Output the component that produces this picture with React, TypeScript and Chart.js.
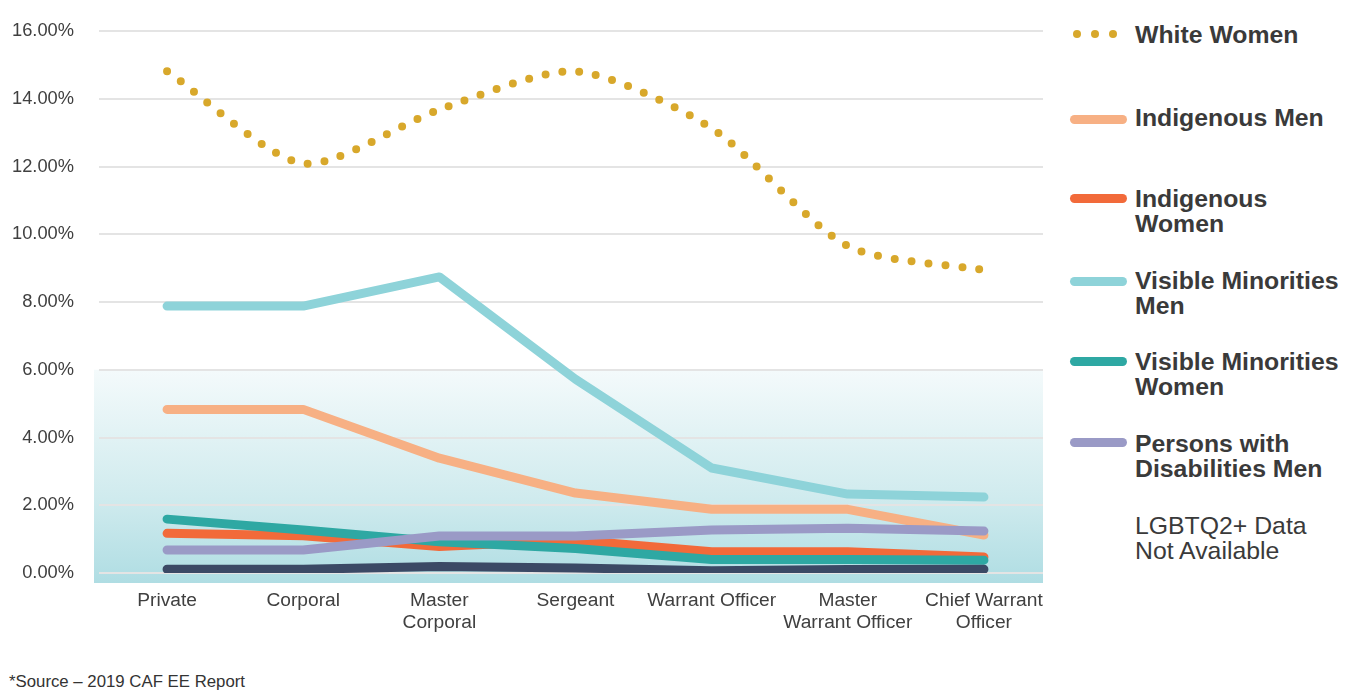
import React, { useEffect, useRef } from "react";
import { Chart, registerables } from "chart.js";

Chart.register(...registerables);

const categories: string[][] = [
  ["Private"],
  ["Corporal"],
  ["Master", "Corporal"],
  ["Sergeant"],
  ["Warrant Officer"],
  ["Master", "Warrant Officer"],
  ["Chief Warrant", "Officer"],
];

const whiteWomen = [14.81, 12.09, 13.68, 14.81, 13.13, 9.65, 8.94];
const indigenousMen = [4.83, 4.83, 3.39, 2.36, 1.88, 1.88, 1.12];
const indigenousWomen = [1.17, 1.1, 0.78, 0.97, 0.63, 0.63, 0.47];
const visibleMinoritiesMen = [7.88, 7.88, 8.74, 5.72, 3.1, 2.33, 2.24];
const visibleMinoritiesWomen = [1.59, 1.27, 0.92, 0.72, 0.4, 0.4, 0.38];
const disabilitiesMen = [0.68, 0.68, 1.09, 1.09, 1.27, 1.32, 1.24];
const disabilitiesWomen = [0.11, 0.11, 0.19, 0.15, 0.07, 0.1, 0.11];

const yTicks = [0, 2, 4, 6, 8, 10, 12, 14, 16];

const COLORS = {
  gold: "#D8A82B",
  peach: "#F7B084",
  orange: "#F26A3A",
  cyan: "#8ED3D9",
  teal: "#2EA8A3",
  lavender: "#9A9AC6",
  navy: "#3B4965",
};

const FONT = "Arial, 'Liberation Sans', sans-serif";

const bgPlugin = {
  id: "bandBg",
  beforeDraw(chart: any) {
    const { ctx, chartArea, scales } = chart;
    const y = scales.y;
    const top = y.getPixelForValue(6);
    const bottom = chartArea.bottom + 10;
    const left = chartArea.left - 5;
    const right = chartArea.right - 9;
    const g = ctx.createLinearGradient(0, top, 0, bottom);
    g.addColorStop(0, "#F4FAFB");
    g.addColorStop(0.6, "#D0EBEE");
    g.addColorStop(1, "#AFDDE3");
    ctx.save();
    ctx.fillStyle = g;
    ctx.fillRect(left, top, right - left, bottom - top);
    ctx.restore();
  },
  beforeDatasetsDraw(chart: any) {
    const { ctx, chartArea, scales } = chart;
    const y = scales.y;
    ctx.save();
    ctx.strokeStyle = "#E4E4E4";
    ctx.lineWidth = 2;
    yTicks.forEach((v) => {
      const py = Math.round(y.getPixelForValue(v));
      ctx.beginPath();
      ctx.moveTo(chartArea.left, py);
      ctx.lineTo(chartArea.right - 9, py);
      ctx.stroke();
    });
    ctx.restore();
  },
};

function lineDs(label: string, data: number[], color: string, order: number, extra: any = {}) {
  return {
    label,
    data,
    borderColor: color,
    backgroundColor: color,
    borderWidth: 9,
    borderCapStyle: "round",
    borderJoinStyle: "round",
    pointRadius: 0,
    pointHoverRadius: 0,
    tension: 0,
    fill: false,
    order,
    ...extra,
  };
}

function ChartCanvas() {
  const ref = useRef<HTMLCanvasElement | null>(null);
  useEffect(() => {
    if (!ref.current) return;
    const chart = new Chart(ref.current, {
      type: "line",
      data: {
        labels: categories as any,
        datasets: [
          lineDs("White Women", whiteWomen, COLORS.gold, 6, {
            borderWidth: 8,
            borderDash: [0, 17],
            tension: 0.25,
          }),
          lineDs("Visible Minorities Men", visibleMinoritiesMen, COLORS.cyan, 5),
          lineDs("Indigenous Men", indigenousMen, COLORS.peach, 4),
          lineDs("Indigenous Women", indigenousWomen, COLORS.orange, 3),
          lineDs("Visible Minorities Women", visibleMinoritiesWomen, COLORS.teal, 2),
          lineDs("Persons with Disabilities Women", disabilitiesWomen, COLORS.navy, 1),
          lineDs("Persons with Disabilities Men", disabilitiesMen, COLORS.lavender, 0),
        ] as any,
      },
      options: {
        responsive: false,
        animation: false,
        layout: { padding: { left: 0, top: 31, right: 8, bottom: 0 } },
        plugins: {
          legend: { display: false },
          tooltip: { enabled: false },
        },
        scales: {
          x: {
            offset: true,
            border: { display: false },
            grid: { display: false, drawTicks: false },
            ticks: {
              color: "#404040",
              font: { family: FONT, size: 19.2, lineHeight: 1.17 },
              padding: 16,
              maxRotation: 0,
              autoSkip: false,
            },
            afterFit(scale: any) {
              scale.height = 77;
            },
          },
          y: {
            min: 0,
            max: 16,
            border: { display: false },
            grid: { display: false, drawTicks: false },
            afterBuildTicks(scale: any) {
              scale.ticks = yTicks.map((v) => ({ value: v }));
            },
            ticks: {
              color: "#404040",
              font: { family: FONT, size: 18.3 },
              padding: 25,
              callback: (v: any) => Number(v).toFixed(2) + "%",
            },
            afterFit(scale: any) {
              scale.width = 99;
              scale.paddingTop = 0;
              scale.paddingBottom = 0;
            },
          },
        },
      },
      plugins: [bgPlugin],
    } as any);
    return () => chart.destroy();
  }, []);
  return (
    <canvas
      ref={ref}
      width={1060}
      height={650}
      style={{ position: "absolute", left: 0, top: 0, width: 1060, height: 650 }}
    />
  );
}

type LegendItem = { label: string[]; color?: string; dotted?: boolean; y: number; bold: boolean; markerY?: number };

const legendItems: LegendItem[] = [
  { label: ["White Women"], color: COLORS.gold, dotted: true, y: 34, markerY: 34, bold: true },
  { label: ["Indigenous Men"], color: COLORS.peach, y: 117, markerY: 119, bold: true },
  { label: ["Indigenous", "Women"], color: COLORS.orange, y: 198, markerY: 198, bold: true },
  { label: ["Visible Minorities", "Men"], color: COLORS.cyan, y: 280, markerY: 281, bold: true },
  { label: ["Visible Minorities", "Women"], color: COLORS.teal, y: 361, markerY: 361, bold: true },
  { label: ["Persons with", "Disabilities Men"], color: COLORS.lavender, y: 443, markerY: 442, bold: true },
  { label: ["LGBTQ2+ Data", "Not Available"], y: 525, bold: false },
];

function Legend() {
  return (
    <>
      {legendItems.map((it, i) => (
        <React.Fragment key={i}>
          {it.color && it.dotted && [0, 1, 2].map((d) => (
            <div
              key={d}
              style={{
                position: "absolute",
                left: 1073 + d * 18,
                top: (it.markerY as number) - 4,
                width: 8,
                height: 8,
                borderRadius: 4,
                background: it.color,
              }}
            />
          ))}
          {it.color && !it.dotted && (
            <div
              style={{
                position: "absolute",
                left: 1070,
                top: (it.markerY as number) - 4.5,
                width: 57,
                height: 9,
                borderRadius: 5,
                background: it.color,
              }}
            />
          )}
          <div
            style={{
              position: "absolute",
              left: 1135,
              top: it.y - 12.5,
              fontFamily: FONT,
              fontSize: 24.8,
              lineHeight: "25px",
              fontWeight: it.bold ? 700 : 400,
              color: "#3A3A3A",
              whiteSpace: "nowrap",
            }}
          >
            {it.label.map((l, j) => (
              <div key={j}>{l}</div>
            ))}
          </div>
        </React.Fragment>
      ))}
    </>
  );
}

export default function App() {
  return (
    <div
      style={{
        position: "fixed",
        left: 0,
        top: 0,
        width: 1351,
        height: 700,
        background: "#ffffff",
        overflow: "hidden",
      }}
    >
      <ChartCanvas />
      <Legend />
      <div
        style={{
          position: "absolute",
          left: 9,
          top: 672,
          fontFamily: FONT,
          fontSize: 16.8,
          lineHeight: "20px",
          color: "#333333",
          whiteSpace: "nowrap",
        }}
      >
        *Source – 2019 CAF EE Report
      </div>
    </div>
  );
}
